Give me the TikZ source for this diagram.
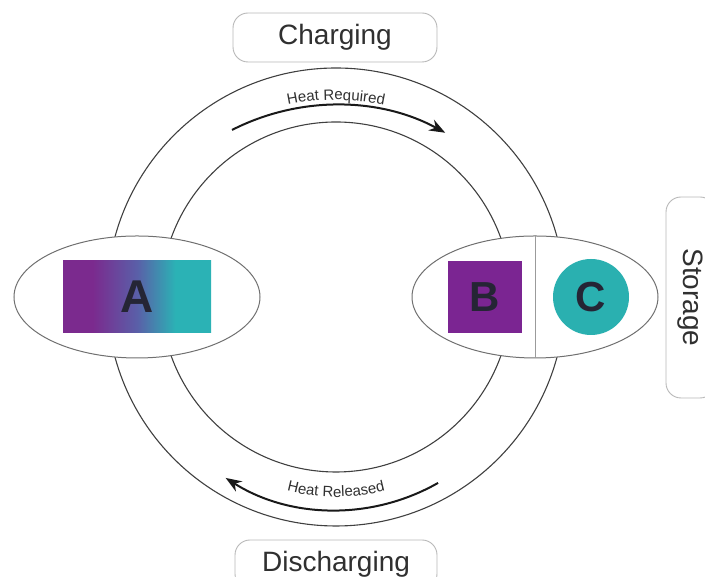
\documentclass[tikz,border=0pt]{standalone}
\usepackage{fontspec}
\setmainfont{Liberation Sans}
\usetikzlibrary{arrows.meta,decorations.text,shapes.geometric}

\definecolor{ringline}{HTML}{404040}
\definecolor{lensline}{HTML}{707070}
\definecolor{tagline}{HTML}{B8B8B8}
\definecolor{labeltext}{HTML}{303030}
\definecolor{lettertext}{HTML}{252535}
\definecolor{apurple}{HTML}{7B2A8E}
\definecolor{amid}{HTML}{5A5FA8}
\definecolor{ateal}{HTML}{2BB2B5}
\definecolor{bpurple}{HTML}{7B2592}
\definecolor{cteal}{HTML}{2AB0B0}

% purple-to-teal blend for the A block (path spans 25bp..75bp)
\pgfdeclarehorizontalshading{agrad}{100bp}{color(0bp)=(apurple); color(35bp)=(apurple); color(50bp)=(amid); color(63bp)=(ateal); color(100bp)=(ateal)}

\tikzset{
  ring/.style={draw=ringline, line width=1.1pt},
  lens/.style={ellipse, draw=lensline, line width=1pt, fill=white,
    minimum width=246pt, minimum height=122pt, inner sep=0pt},
  divider/.style={draw=lensline!70, line width=0.7pt},
  letter/.style={text=lettertext, font=\bfseries\fontsize{46}{46}\selectfont, inner sep=0pt},
  tag/.style={draw=tagline, line width=0.9pt, rounded corners=15pt, fill=white,
    text=labeltext, font=\fontsize{28}{28}\selectfont, inner sep=0pt},
  flow/.style={draw=black!90, line width=2pt, -{Stealth[length=16pt,width=12pt]}},
  arclabel/.style={decorate, decoration={text along path, text align=center,
    text={|\fontsize{15}{15}\selectfont\color{labeltext}|#1}}}
}

\begin{document}
\begin{tikzpicture}[x=1pt,y=1pt]
\useasboundingbox (0,0) rectangle (705,577);
\clip (0,0) rectangle (705,577);

% the cycle
\coordinate (O) at (336,280);
\draw[ring] (O) circle[radius=229];
\draw[ring] (O) circle[radius=175];

% reactor lenses
\node[lens] (left) at (137,280) {};
\node[lens] (right) at (535,280) {};
\draw[divider] (right.north) -- (right.south);

\node[letter, shading=agrad, minimum width=148pt, minimum height=72pt] (A) at (137,280) {A};
\node[letter, fill=bpurple, minimum width=74pt, minimum height=72pt,
  font=\bfseries\fontsize{42}{42}\selectfont] (B) at (485,280) {B};
\node[letter, circle, fill=cteal, minimum size=76pt,
  font=\bfseries\fontsize{42}{42}\selectfont] (C) at (591,280) {C};

% stage labels
\node[tag, minimum width=204pt, minimum height=49pt] (charge) at (335,539.5) {Charging};
\node[tag, minimum width=202pt, minimum height=49pt] (discharge) at (336,12.5) {Discharging};
\node[tag, rotate=-90, minimum width=201pt, minimum height=49pt] (store) at (690.5,279.5) {Storage};

% heat flow arrows with curved captions
\coordinate (topc) at (336,243);
\coordinate (botc) at (336,273);
\draw[flow] ([shift={(117:229)}]topc) arc[start angle=117, end angle=61.5, radius=229];
\path[arclabel={Heat Required}] ([shift={(118:234)}]topc) arc[start angle=118, end angle=62, radius=234];

\draw[flow] ([shift={(-60.3:206)}]botc) arc[start angle=-60.3, end angle=-122.4, radius=206];
\path[arclabel={Heat Released}] ([shift={(-125:193)}]botc) arc[start angle=-125, end angle=-55, radius=193];
\end{tikzpicture}
\end{document}
